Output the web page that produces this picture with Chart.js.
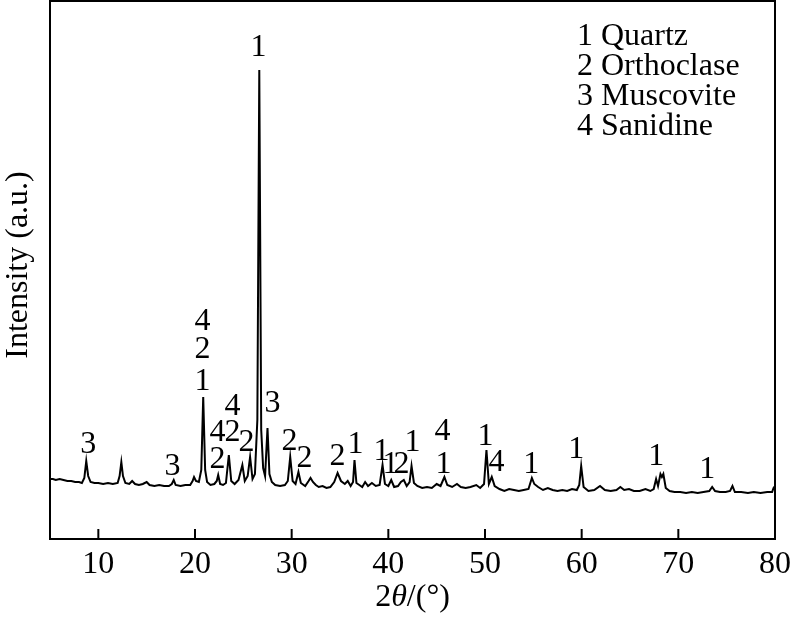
<!DOCTYPE html>
<html>
<head>
<meta charset="utf-8">
<script src="https://cdn.jsdelivr.net/npm/chart.js@4.4.1/dist/chart.umd.min.js"></script>
<style>
  html, body { margin: 0; padding: 0; background: #fff; }
  canvas { display: block; }
</style>
</head>
<body>
<canvas id="xrdChart" width="793" height="622"></canvas>
<script>
// XRD pattern
const twoTheta = [
  5.0, 5.3, 5.6, 6.0, 6.4, 6.8, 7.2, 7.6, 8.0, 8.3, 8.55, 8.75, 8.95, 9.2, 9.6,
  10.0, 10.5, 11.0, 11.5, 12.0, 12.2, 12.38, 12.55, 12.8, 13.2, 13.5, 13.8, 14.2, 14.6,
  15.0, 15.3, 15.8, 16.3, 16.8, 17.3, 17.6, 17.8, 18.0, 18.5, 19.0, 19.5, 19.75, 19.9,
  20.1, 20.4, 20.65, 20.85, 21.05, 21.25, 21.6, 22.0, 22.25, 22.4, 22.6, 22.9, 23.2,
  23.5, 23.75, 24.1, 24.5, 24.9, 25.15, 25.45, 25.7, 25.95, 26.2, 26.45, 26.65, 26.85,
  27.05, 27.25, 27.5, 27.7, 27.95, 28.3, 28.8, 29.3, 29.6, 29.85, 30.1, 30.4, 30.7,
  30.95, 31.4, 31.75, 31.95, 32.2, 32.5, 32.8, 33.2, 33.6, 34.0, 34.4, 34.75, 35.1,
  35.5, 35.8, 36.1, 36.35, 36.5, 36.7, 37.0, 37.3, 37.6, 37.9, 38.3, 38.7, 39.1, 39.4,
  39.65, 40.0, 40.3, 40.6, 41.0, 41.3, 41.6, 41.9, 42.2, 42.4, 42.65, 43.0, 43.5, 44.0,
  44.5, 45.0, 45.4, 45.8, 46.1, 46.6, 47.1, 47.5, 48.0, 48.5, 49.1, 49.5, 49.9, 50.15,
  50.4, 50.7, 51.0, 51.5, 52.0, 52.5, 53.0, 53.5, 54.0, 54.5, 54.85, 55.1, 55.5, 56.0,
  56.5, 57.0, 57.5, 58.0, 58.5, 59.0, 59.5, 59.75, 59.95, 60.2, 60.7, 61.3, 61.9, 62.4,
  63.0, 63.6, 64.0, 64.4, 64.9, 65.4, 66.0, 66.6, 67.1, 67.45, 67.7, 67.9, 68.15, 68.3,
  68.45, 68.7, 69.1, 69.6, 70.2, 70.8, 71.4, 72.0, 72.6, 73.2, 73.5, 73.8, 74.3, 74.9,
  75.35, 75.6, 75.85, 76.5, 77.2, 77.8, 78.5, 79.2, 79.7, 79.85, 80.0
];
const intensity = [
  60, 60, 59, 60, 59, 58, 58, 57, 57, 56, 61, 78, 63, 57, 56,
  56, 55, 56, 55, 56, 63, 77, 63, 56, 55, 58, 55, 54, 55,
  57, 54, 53, 54, 53, 53, 55, 59, 54, 53, 54, 54, 58, 62,
  58, 57, 69, 142, 69, 57, 54, 55, 58, 64, 55, 54, 56,
  84, 58, 55, 59, 74, 58, 63, 82, 60, 65, 119, 469, 109,
  71, 63, 111, 65, 57, 54, 53, 54, 58, 82, 58, 55, 67,
  56, 53, 58, 61, 57, 54, 52, 53, 51, 52, 57, 66, 58,
  55, 58, 53, 57, 79, 56, 54, 52, 57, 53, 56, 53, 54, 74,
  55, 53, 59, 52, 53, 57, 59, 53, 57, 73, 56, 53, 51, 52,
  51, 55, 53, 62, 54, 52, 55, 52, 51, 52, 54, 51, 55, 89,
  55, 62, 53, 50, 48, 50, 49, 48, 49, 50, 61, 55, 52, 49,
  51, 49, 48, 49, 48, 50, 49, 54, 73, 52, 48, 49, 53, 49,
  48, 49, 52, 49, 50, 48, 48, 50, 48, 50, 60, 53, 65, 62,
  65, 51, 48, 47, 47, 46, 47, 46, 47, 48, 52, 48, 47, 47,
  48, 53, 47, 47, 46, 47, 46, 47, 47, 51, 53
];
const xTicks = [10, 20, 30, 40, 50, 60, 70, 80];

// phase numbers over peaks: [text, 2theta, intensity]
const peakLabels = [
  ["1", 26.56, 491],
  ["3", 8.96, 94], ["3", 17.66, 72],
  ["4", 20.77, 217], ["2", 20.77, 189], ["1", 20.77, 157],
  ["4", 23.87, 132], ["4", 22.32, 106], ["2", 23.87, 106], ["2", 22.32, 79],
  ["2", 25.32, 96], ["3", 28.01, 135], ["2", 29.77, 97], ["2", 31.32, 80],
  ["2", 34.74, 82], ["1", 36.6, 94], ["1", 39.3, 87], ["1", 40.23, 74],
  ["2", 41.37, 74], ["1", 42.5, 96], ["4", 45.6, 107], ["1", 45.7, 74],
  ["1", 50.05, 102], ["4", 51.2, 76], ["1", 54.78, 74], ["1", 59.44, 89],
  ["1", 67.72, 82], ["1", 73.0, 69]
];
const phaseNumbers = ["1", "2", "3", "4"];
const phaseNames = ["Quartz", "Orthoclase", "Muscovite", "Sanidine"];

const SERIF = '"Liberation Serif", "Times New Roman", serif';
const FONT = "32px " + SERIF;

const framePlugin = {
  id: "frame",
  afterDatasetsDraw(chart) {
    const { ctx, chartArea: a, scales } = chart;
    ctx.save();
    ctx.strokeStyle = "#000";
    ctx.fillStyle = "#000";
    ctx.lineWidth = 2;
    ctx.strokeRect(a.left, a.top, a.right - a.left, a.bottom - a.top);

    // inward ticks + tick labels
    ctx.font = FONT;
    ctx.textAlign = "center";
    ctx.textBaseline = "middle";
    xTicks.forEach((v) => {
      const px = scales.x.getPixelForValue(v);
      if (v < 80) {
        ctx.beginPath();
        ctx.moveTo(px, a.bottom);
        ctx.lineTo(px, a.bottom - 10);
        ctx.stroke();
      }
      ctx.fillText(String(v), px, a.bottom + 26);
    });

    // peak labels
    peakLabels.forEach(([t, x, y]) => {
      ctx.fillText(t, scales.x.getPixelForValue(x), scales.y.getPixelForValue(y));
    });

    // legend
    ctx.textAlign = "left";
    phaseNames.forEach((name, i) => {
      ctx.fillText(phaseNumbers[i] + " " + name, a.right - 198, a.top + 36 + i * 30);
    });

    // x title: 2θ/(°)
    const parts = [
      ["2", FONT],
      ["θ", "italic " + FONT],
      ["/(°)", FONT],
    ];
    let total = 0;
    parts.forEach(([t, f]) => { ctx.font = f; total += ctx.measureText(t).width; });
    let cx = (a.left + a.right) / 2 - total / 2;
    parts.forEach(([t, f]) => {
      ctx.font = f;
      ctx.fillText(t, cx, a.bottom + 59);
      cx += ctx.measureText(t).width;
    });

    // y title
    ctx.font = FONT;
    ctx.textAlign = "center";
    ctx.translate(19, (a.top + a.bottom) / 2 - 5);
    ctx.rotate(-Math.PI / 2);
    ctx.fillText("Intensity (a.u.)", 0, 0);
    ctx.restore();
  },
};

new Chart(document.getElementById("xrdChart"), {
  type: "line",
  data: {
    datasets: [
      {
        data: twoTheta.map((x, i) => ({ x, y: intensity[i] })),
        borderColor: "#000",
        borderWidth: 2,
        pointRadius: 0,
        tension: 0,
        fill: false,
      },
    ],
  },
  options: {
    responsive: false,
    animation: false,
    layout: { padding: { top: 1, right: 18, left: 0, bottom: 0 } },
    plugins: { legend: { display: false }, tooltip: { enabled: false } },
    scales: {
      x: {
        type: "linear",
        min: 5,
        max: 80,
        afterFit: (scale) => {
          scale.height = 83;
          scale.paddingLeft = 0;
          scale.paddingRight = 0;
        },
        afterBuildTicks: (scale) => { scale.ticks = xTicks.map((v) => ({ value: v })); },
        grid: { display: false },
        border: { display: false },
        ticks: { display: false },
      },
      y: {
        min: 0,
        max: 538,
        afterFit: (scale) => { scale.width = 50; },
        grid: { display: false },
        border: { display: false },
        ticks: { display: false },
      },
    },
  },
  plugins: [framePlugin],
});
</script>
</body>
</html>
